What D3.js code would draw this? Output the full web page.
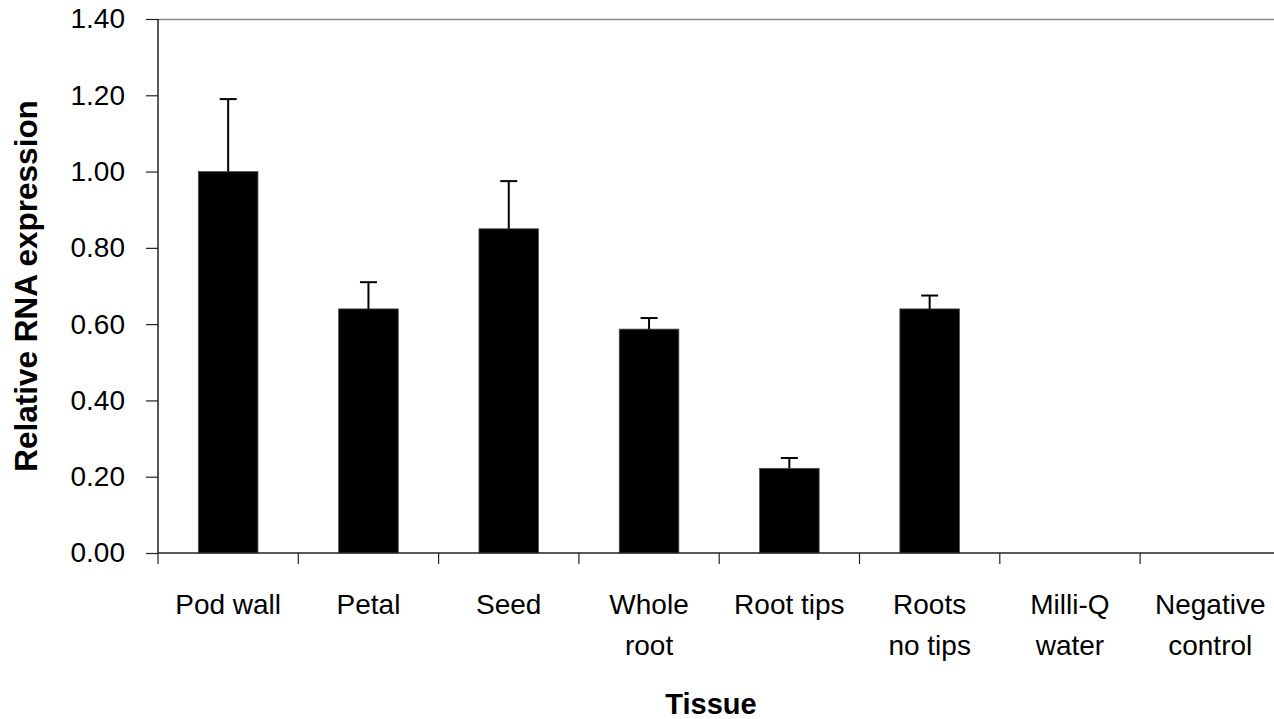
<!DOCTYPE html>
<html>
<head>
<meta charset="utf-8">
<script src="https://cdn.jsdelivr.net/npm/d3@7/dist/d3.min.js"></script>
<style>
  html, body { margin: 0; padding: 0; background: #fff; }
  svg { display: block; }
  text { font-family: "Liberation Sans", Arial, sans-serif; fill: #000; }
</style>
</head>
<body>
<svg id="chart" width="1274" height="719"></svg>
<script>
const categories = [["Pod wall"], ["Petal"], ["Seed"], ["Whole", "root"], ["Root tips"], ["Roots", "no tips"], ["Milli-Q", "water"], ["Negative", "control"]];
const values = [1.00, 0.64, 0.85, 0.587, 0.222, 0.64, 0, 0];
const errorTops = [1.19, 0.71, 0.975, 0.616, 0.249, 0.675, null, null];
const yTicks = [0, 0.2, 0.4, 0.6, 0.8, 1.0, 1.2, 1.4];
const yTitle = "Relative RNA expression";
const xTitle = "Tissue";

(function () {
const svg = d3.select("#chart");
const pLeft = 158, pTop = 19, pBottom = 553, step = 140.3;
const pRight = pLeft + step * categories.length;

const keys = categories.map(c => c.join(" "));
const x = d3.scaleBand().domain(keys).range([pLeft, pRight]).paddingInner(0.575).paddingOuter(0.2875);
const y = d3.scaleLinear().domain([0, 1.4]).range([pBottom, pTop]);

// top border (gray)
svg.append("line").attr("x1", pLeft).attr("x2", pRight).attr("y1", pTop + 0.5).attr("y2", pTop + 0.5)
  .attr("stroke", "#8c8c8c").attr("stroke-width", 1.5);
svg.append("line").attr("x1", pRight).attr("x2", pRight).attr("y1", pTop).attr("y2", pBottom)
  .attr("stroke", "#8c8c8c").attr("stroke-width", 1.5);

// bars
svg.append("g").selectAll("rect").data(values).join("rect")
  .attr("x", (d, i) => x(keys[i]))
  .attr("width", x.bandwidth())
  .attr("y", d => y(d))
  .attr("height", d => pBottom - y(d))
  .attr("fill", "#000")
  .attr("stroke", "#555").attr("stroke-width", 0.8);

// error bars (upper only)
const eb = svg.append("g").attr("stroke", "#000").attr("stroke-width", 2);
errorTops.forEach((e, i) => {
  if (e == null) return;
  const cx = x(keys[i]) + x.bandwidth() / 2;
  eb.append("line").attr("x1", cx).attr("x2", cx).attr("y1", y(values[i])).attr("y2", y(e));
  eb.append("line").attr("x1", cx - 8.5).attr("x2", cx + 8.5).attr("y1", y(e)).attr("y2", y(e));
});

// y axis
const yAxis = d3.axisLeft(y).tickValues(yTicks).tickFormat(d3.format(".2f")).tickSize(12).tickPadding(21);
const gy = svg.append("g").attr("transform", `translate(${pLeft},0)`).call(yAxis);
gy.select(".domain").attr("stroke", "#222").attr("stroke-width", 1.5).attr("d", `M0,${pTop}V${pBottom}`);
gy.selectAll(".tick line").attr("stroke", "#222").attr("stroke-width", 1.2);
gy.selectAll(".tick text").attr("font-size", 28).attr("font-family", "Liberation Sans, Arial, sans-serif").attr("fill", "#000");

// x axis baseline and boundary ticks
svg.append("line").attr("x1", pLeft).attr("x2", pRight).attr("y1", pBottom).attr("y2", pBottom)
  .attr("stroke", "#222").attr("stroke-width", 1.5);
const bounds = d3.range(categories.length + 1).map(i => pLeft + i * step);
svg.append("g").selectAll("line").data(bounds).join("line")
  .attr("x1", d => d).attr("x2", d => d).attr("y1", pBottom).attr("y2", pBottom + 11)
  .attr("stroke", "#222").attr("stroke-width", 1.2);

// category labels
const lab = svg.append("g").attr("font-size", 28).attr("text-anchor", "middle");
categories.forEach((lines, i) => {
  const cx = x(keys[i]) + x.bandwidth() / 2;
  lines.forEach((t, j) => {
    lab.append("text").attr("x", cx).attr("y", 614 + j * 41).text(t);
  });
});

// titles
svg.append("text").attr("x", 711).attr("y", 714).attr("text-anchor", "middle")
  .attr("font-size", 29).attr("font-weight", "bold").text(xTitle);
svg.append("text").attr("transform", `translate(37,${(pTop + pBottom) / 2}) rotate(-90)`)
  .attr("text-anchor", "middle").attr("font-size", 31.5).attr("font-weight", "bold").text(yTitle);
})();
</script>
</body>
</html>
